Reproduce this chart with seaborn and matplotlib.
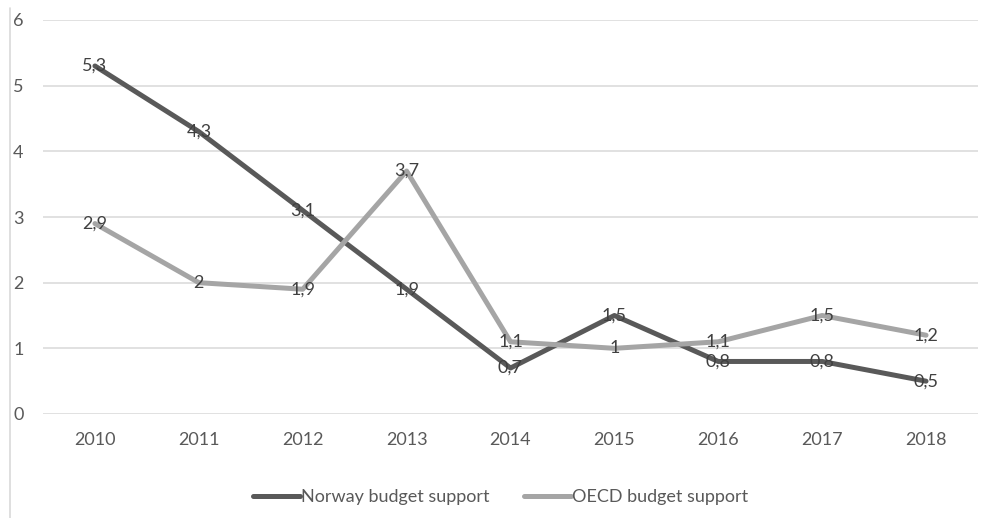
import matplotlib
matplotlib.use("Agg")
import matplotlib.pyplot as plt
from matplotlib.lines import Line2D
import seaborn as sns
import pandas as pd

years = ["2010", "2011", "2012", "2013", "2014", "2015", "2016", "2017", "2018"]
norway = [5.3, 4.3, 3.1, 1.9, 0.7, 1.5, 0.8, 0.8, 0.5]
oecd = [2.9, 2.0, 1.9, 3.7, 1.1, 1.0, 1.1, 1.5, 1.2]
series_names = ["Norway budget support", "OECD budget support"]
yticks = [0, 1, 2, 3, 4, 5, 6]

df = pd.DataFrame({
    "year": years * 2,
    "value": norway + oecd,
    "series": [series_names[0]] * len(years) + [series_names[1]] * len(years),
})

sns.set_theme(style="white")
plt.rcParams["font.family"] = ["Lato", "DejaVu Sans"]

fig = plt.figure(figsize=(10.03, 5.18), dpi=100)
ax = fig.add_axes([43 / 1003, 1 - 414 / 518, 935 / 1003, 394 / 518])

palette = {series_names[0]: "#595959", series_names[1]: "#A5A5A5"}
sns.lineplot(data=df, x="year", y="value", hue="series", palette=palette,
             linewidth=3.6, sort=False, ax=ax, legend=False,
             solid_capstyle="round", solid_joinstyle="round")

# data labels centred on each point
for name, vals in zip(series_names, [norway, oecd]):
    for i, v in enumerate(vals):
        ax.text(i, v, f"{v:g}".replace(".", ","), ha="center", va="center",
                fontsize=13, color="#404040", zorder=5)

ax.set_xlim(-0.5, len(years) - 0.5)
ax.set_ylim(0, 6)
ax.set_yticks(yticks)
ax.set_yticklabels([str(t) for t in yticks])
ax.set_xlabel("")
ax.set_ylabel("")
ax.grid(axis="y", color="#D9D9D9", linewidth=1.1)
ax.grid(axis="x", visible=False)
ax.set_axisbelow(True)
for s in ax.spines.values():
    s.set_visible(False)
ax.tick_params(axis="both", length=0, labelsize=13, colors="#595959")
ax.tick_params(axis="y", pad=14)
ax.tick_params(axis="x", pad=13)

handles = [Line2D([0], [0], color=palette[n], linewidth=3.6, solid_capstyle="round")
           for n in series_names]
fig.legend(handles, series_names, loc="center", bbox_to_anchor=(0.499, 1 - 497 / 518),
           ncol=2, frameon=False, fontsize=13, handlelength=2.6, handletextpad=0.05,
           columnspacing=1.9, labelcolor="#595959")

fig.add_artist(Line2D([10 / 1003, 10 / 1003], [0, 1 - 8 / 518], color="#D9D9D9",
                      linewidth=1.2, transform=fig.transFigure))

fig.savefig("out.png", dpi=100)
